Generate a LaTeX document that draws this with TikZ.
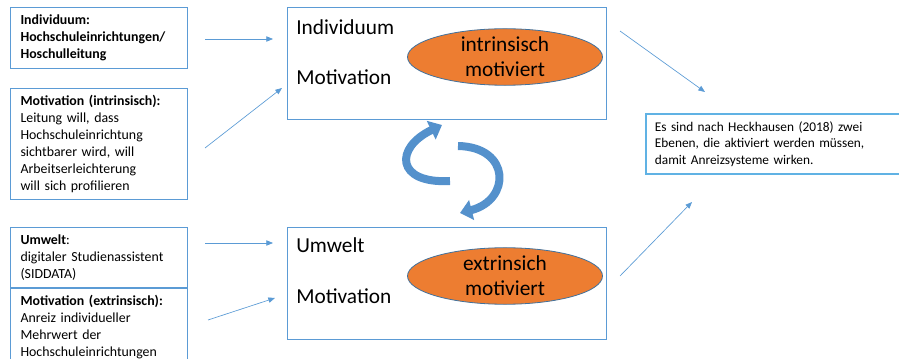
\documentclass[tikz,border=0pt]{standalone}
\usepackage{fontspec}
\setmainfont{Carlito}
\usetikzlibrary{shapes.geometric,arrows.meta}

\definecolor{rahmen}{RGB}{91,155,213}
\definecolor{hellrahmen}{RGB}{96,178,228}
\definecolor{dunkelblau}{RGB}{65,113,156}
\definecolor{orangefill}{RGB}{237,125,49}
\definecolor{pfeilblau}{RGB}{84,145,204}

\tikzset{
  infobox/.style={draw=rahmen, line width=0.8pt, anchor=north west, align=left,
    inner xsep=7.5pt, text width=117.75pt, font=\fontsize{10.4}{12.75}\selectfont},
  ebenebox/.style={draw=rahmen, line width=0.8pt, anchor=north west,
    minimum width=239.25pt, minimum height=84pt, inner sep=0pt},
  ebenetext/.style={anchor=west, inner sep=0pt, font=\fontsize{16}{19}\selectfont},
  motivoval/.style={ellipse, draw=dunkelblau, line width=0.6pt, fill=orangefill,
    minimum width=146.25pt, minimum height=36.75pt, inner sep=0pt, align=center,
    font=\fontsize{16}{18.75}\selectfont},
  fazitbox/.style={draw=hellrahmen, line width=1.3pt, anchor=north west, align=left,
    inner xsep=6.75pt, text width=186.5pt, minimum height=45pt,
    font=\fontsize{10}{12.4}\selectfont},
  zeiger/.style={draw=rahmen, line width=0.5pt, -{Triangle[length=5pt,width=4pt]}},
  kreislauf/.style={draw=pfeilblau, line width=6pt,
    -{Triangle[length=9pt,width=15pt]}}
}

\begin{document}
\begin{tikzpicture}[x=0.75pt, y=-0.75pt]
  \useasboundingbox (0,0) rectangle (899,359);
  \clip (0,0) rectangle (899,359);

  % linke Spalte
  \node [infobox, minimum height=45.75pt] (indiv) at (10,7)
    {\textbf{Individuum:}\\\textbf{Hochschuleinrichtungen/}\\\textbf{Hoschulleitung}};
  \node [infobox, minimum height=83.25pt] (motint) at (10,88)
    {\textbf{Motivation (intrinsisch):}\\Leitung will, dass\\Hochschuleinrichtung\\sichtbarer wird, will\\Arbeitserleichterung\\will sich profilieren};
  \node [infobox, minimum height=45pt] (umwelt) at (10,227)
    {\textbf{Umwelt}:\\digitaler Studienassistent\\(SIDDATA)};
  \node [infobox, inner ysep=5pt] (motext) at (10,288)
    {\textbf{Motivation (extrinsisch):}\\Anreiz individueller\\Mehrwert der\\Hochschuleinrichtungen\\};

  % mittlere Spalte
  \node [ebenebox] (ebeneI) at (287,7) {};
  \node [ebenetext] (txtI) at (296,27) {Individuum};
  \node [ebenetext] (txtIM) at (296,77) {Motivation};
  \node [motivoval] (intr) at (505,57) {intrinsisch\\motiviert};

  \node [ebenebox] (ebeneU) at (287,227) {};
  \node [ebenetext] (txtU) at (296,245) {Umwelt};
  \node [ebenetext] (txtUM) at (296,296) {Motivation};
  \node [motivoval] (extr) at (505,276) {extrinsich\\motiviert};

  % rechte Spalte
  \node [fazitbox] (fazit) at (645,113)
    {Es sind nach Heckhausen (2018) zwei\\Ebenen, die aktiviert werden müssen,\\damit Anreizsysteme wirken.};

  % Pfeile
  \coordinate (a1) at (205,39);  \coordinate (b1) at (273,39);
  \coordinate (a2) at (205,148); \coordinate (b2) at (282,88);
  \coordinate (a3) at (205,243); \coordinate (b3) at (273,243);
  \coordinate (a4) at (208,320); \coordinate (b4) at (275,298);
  \coordinate (a5) at (620,31);  \coordinate (b5) at (705,92);
  \coordinate (a6) at (620,276); \coordinate (b6) at (692,202);
  \draw [zeiger] (a1) -- (b1);
  \draw [zeiger] (a2) -- (b2);
  \draw [zeiger] (a3) -- (b3);
  \draw [zeiger] (a4) -- (b4);
  \draw [zeiger] (a5) -- (b5);
  \draw [zeiger] (a6) -- (b6);

  % Kreislauf
  \draw [kreislauf] (450,181) .. controls (396,184) and (394,148) .. (442,125);
  \draw [kreislauf] (458,146) .. controls (511,147) and (511,200) .. (460,213);
\end{tikzpicture}
\end{document}
